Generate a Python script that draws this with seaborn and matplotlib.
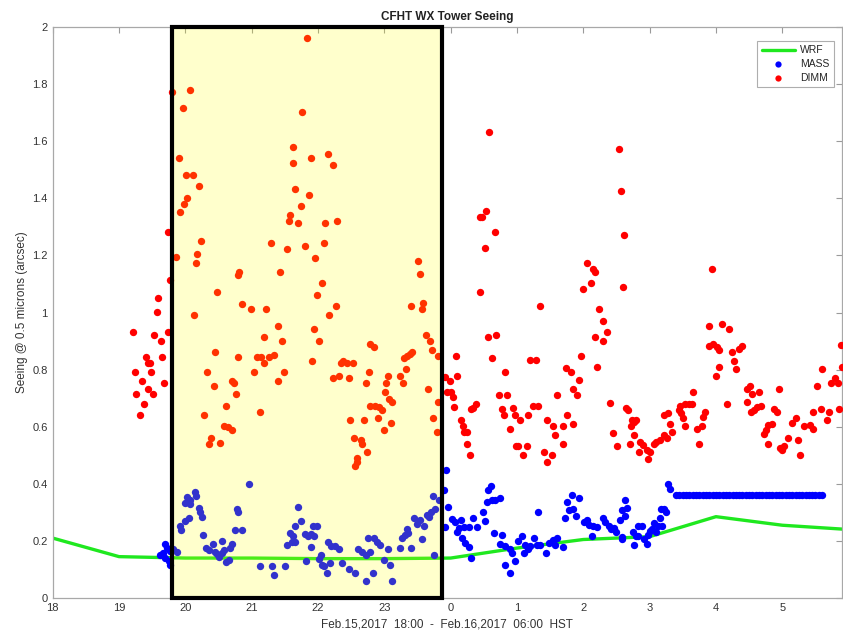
import matplotlib
matplotlib.use("Agg")
import matplotlib.pyplot as plt
from matplotlib.patches import Rectangle
import seaborn as sns
import pandas as pd

# WRF model seeing (hourly)
wrf_time = [18, 19, 20, 21, 22, 23, 24, 25, 26, 27, 28, 29, 30]
wrf_seeing = [0.21, 0.145, 0.14, 0.14, 0.138, 0.138, 0.14, 0.175, 0.205, 0.215, 0.285, 0.255, 0.24]

# MASS measurements (hours since 0:00 Feb.15, HST)
mass_time = [
    19.62, 19.67, 19.70, 19.70, 19.72, 19.75, 19.77, 19.77, 19.82, 19.87,
    19.92, 19.93, 19.99, 19.99, 20.03, 20.05, 20.07, 20.07, 20.14, 20.16,
    20.20, 20.22, 20.25, 20.26, 20.31, 20.35, 20.42, 20.45, 20.48, 20.51,
    20.55, 20.56, 20.58, 20.62, 20.66, 20.67, 20.71, 20.75, 20.78, 20.80,
    20.85, 20.965, 21.13, 21.30, 21.33, 21.50, 21.53, 21.58, 21.61, 21.62,
    21.66, 21.66, 21.70, 21.74, 21.81, 21.82, 21.85, 21.89, 21.90, 21.93,
    21.94, 21.99, 22.01, 22.04, 22.06, 22.09, 22.13, 22.15, 22.18, 22.19,
    22.26, 22.32, 22.355, 22.46, 22.56, 22.61, 22.66, 22.73, 22.73, 22.76,
    22.79, 22.83, 22.84, 22.89, 22.94, 23.00, 23.05, 23.08, 23.11, 23.24,
    23.265, 23.31, 23.34, 23.36, 23.40, 23.44, 23.49, 23.54, 23.565, 23.60,
    23.64, 23.67, 23.70, 23.73, 23.75, 23.77, 23.82, 23.90, 23.92, 23.93,
    23.96, 24.02, 24.07, 24.09, 24.12, 24.15, 24.17, 24.20, 24.22, 24.27,
    24.27, 24.31, 24.34, 24.39, 24.49, 24.52, 24.545, 24.57, 24.61, 24.62,
    24.66, 24.67, 24.74, 24.75, 24.77, 24.82, 24.82, 24.89, 24.90, 24.92,
    24.97, 25.02, 25.07, 25.10, 25.12, 25.16, 25.19, 25.26, 25.30, 25.32,
    25.34, 25.43, 25.48, 25.54, 25.57, 25.60, 25.69, 25.73, 25.76, 25.79,
    25.83, 25.85, 25.89, 25.94, 26.01, 26.05, 26.08, 26.13, 26.14, 26.20,
    26.30, 26.33, 26.38, 26.42, 26.46, 26.50, 26.56, 26.58, 26.58, 26.58,
    26.63, 26.63, 26.66, 26.75, 26.76, 26.79, 26.83, 26.83, 26.88, 26.91,
    26.96, 26.97, 27.01, 27.03, 27.06, 27.09, 27.12, 27.15, 27.17, 27.18,
    27.21, 27.25, 27.28, 27.31,
    27.40, 27.45, 27.50, 27.55, 27.60, 27.65, 27.70, 27.75, 27.80, 27.85,
    27.90, 27.95, 28.00, 28.05, 28.10, 28.15, 28.20, 28.25, 28.30, 28.35,
    28.40, 28.45, 28.50, 28.55, 28.60, 28.65, 28.70, 28.75, 28.80, 28.85,
    28.90, 28.95, 29.00, 29.05, 29.10, 29.15, 29.20, 29.25, 29.30, 29.35,
    29.40, 29.45, 29.50, 29.55, 29.60,
]
mass_seeing = [
    0.152, 0.158, 0.191, 0.141, 0.176, 0.129, 0.117, 0.164, 0.170, 0.160,
    0.251, 0.240, 0.333, 0.269, 0.354, 0.280, 0.344, 0.330, 0.370, 0.356,
    0.317, 0.300, 0.284, 0.222, 0.176, 0.167, 0.191, 0.160, 0.154, 0.144,
    0.156, 0.199, 0.167, 0.125, 0.132, 0.176, 0.190, 0.240, 0.312, 0.300,
    0.240, 0.399, 0.111, 0.111, 0.080, 0.111, 0.185, 0.228, 0.195, 0.216,
    0.251, 0.195, 0.319, 0.269, 0.226, 0.131, 0.216, 0.178, 0.226, 0.251,
    0.216, 0.251, 0.135, 0.152, 0.117, 0.111, 0.088, 0.197, 0.121, 0.181,
    0.181, 0.170, 0.121, 0.100, 0.088, 0.170, 0.160, 0.152, 0.059, 0.210,
    0.160, 0.088, 0.210, 0.195, 0.187, 0.132, 0.170, 0.117, 0.059, 0.176,
    0.210, 0.222, 0.242, 0.228, 0.176, 0.280, 0.261, 0.272, 0.207, 0.251,
    0.292, 0.284, 0.300, 0.358, 0.152, 0.312, 0.342, 0.379, 0.249, 0.449,
    0.319, 0.277, 0.265, 0.230, 0.245, 0.272, 0.210, 0.249, 0.193, 0.249,
    0.179, 0.141, 0.280, 0.249, 0.300, 0.269, 0.338, 0.377, 0.391, 0.344,
    0.228, 0.344, 0.350, 0.191, 0.222, 0.181, 0.117, 0.172, 0.088, 0.158,
    0.129, 0.199, 0.219, 0.156, 0.184, 0.172, 0.181, 0.210, 0.187, 0.300,
    0.187, 0.158, 0.193, 0.202, 0.187, 0.210, 0.179, 0.280, 0.338, 0.309,
    0.362, 0.312, 0.288, 0.350, 0.265, 0.272, 0.257, 0.219, 0.251, 0.249,
    0.280, 0.265, 0.253, 0.242, 0.245, 0.230, 0.272, 0.214, 0.207, 0.309,
    0.342, 0.288, 0.315, 0.230, 0.187, 0.216, 0.216, 0.251, 0.251, 0.207,
    0.191, 0.222, 0.234, 0.242, 0.263, 0.230, 0.251, 0.280, 0.312, 0.251,
    0.312, 0.300, 0.400, 0.382,
    0.36, 0.36, 0.36, 0.36, 0.36, 0.36, 0.36, 0.36, 0.36, 0.36,
    0.36, 0.36, 0.36, 0.36, 0.36, 0.36, 0.36, 0.36, 0.36, 0.36,
    0.36, 0.36, 0.36, 0.36, 0.36, 0.36, 0.36, 0.36, 0.36, 0.36,
    0.36, 0.36, 0.36, 0.36, 0.36, 0.36, 0.36, 0.36, 0.36, 0.36,
    0.36, 0.36, 0.36, 0.36, 0.36,
]

# DIMM measurements
dimm_time = [
    19.211, 19.248, 19.26, 19.32, 19.347, 19.37, 19.403, 19.44, 19.442, 19.468,
    19.483, 19.517, 19.532, 19.568, 19.583, 19.638, 19.649, 19.684, 19.739, 19.744,
    19.77, 19.795, 19.86, 19.905, 19.92, 19.96, 19.98, 20.01, 20.03, 20.07,
    20.12, 20.135, 20.16, 20.18, 20.21, 20.23, 20.28, 20.33, 20.35, 20.38,
    20.43, 20.45, 20.48, 20.53, 20.58, 20.61, 20.65, 20.70, 20.70, 20.74,
    20.76, 20.79, 20.80, 20.81, 20.86, 20.99, 21.04, 21.08, 21.13, 21.14,
    21.18, 21.19, 21.21, 21.26, 21.29, 21.34, 21.39, 21.40, 21.43, 21.45,
    21.48, 21.54, 21.56, 21.58, 21.62, 21.63, 21.655, 21.70, 21.74, 21.755,
    21.81, 21.84, 21.86, 21.89, 21.91, 21.94, 21.96, 21.99, 22.01, 22.06,
    22.09, 22.11, 22.147, 22.16, 22.22, 22.23, 22.27, 22.28, 22.31, 22.34,
    22.375, 22.44, 22.47, 22.49, 22.53, 22.55, 22.56, 22.585, 22.59, 22.645,
    22.66, 22.69, 22.73, 22.745, 22.77, 22.785, 22.79, 22.85, 22.86, 22.90,
    22.92, 22.96, 23.00, 23.01, 23.03, 23.06, 23.07, 23.10, 23.11, 23.24,
    23.28, 23.29, 23.33, 23.34, 23.38, 23.40, 23.42, 23.51, 23.54, 23.57,
    23.59, 23.63, 23.665, 23.69, 23.725, 23.74, 23.79, 23.81, 23.81, 23.92,
    23.95, 23.99, 24.00, 24.03, 24.05, 24.08, 24.09, 24.16, 24.18, 24.20,
    24.24, 24.25, 24.29, 24.30, 24.34, 24.38, 24.44, 24.44, 24.47, 24.52,
    24.54, 24.57, 24.585, 24.63, 24.67, 24.69, 24.73, 24.77, 24.80, 24.82,
    24.85, 24.89, 24.94, 24.97, 24.99, 25.02, 25.04, 25.09, 25.15, 25.17,
    25.19, 25.24, 25.29, 25.32, 25.34, 25.41, 25.45, 25.46, 25.53, 25.55,
    25.57, 25.60, 25.69, 25.69, 25.74, 25.75, 25.81, 25.84, 25.85, 25.90,
    25.94, 25.96, 26.00, 26.05, 26.12, 26.15, 26.17, 26.17, 26.20, 26.24,
    26.29, 26.30, 26.35, 26.40, 26.45, 26.51, 26.545, 26.565, 26.60, 26.62,
    26.65, 26.67, 26.72, 26.73, 26.76, 26.77, 26.70, 26.80, 26.84, 26.85,
    26.90, 26.96, 26.97, 27.00, 27.06, 27.10, 27.16, 27.21, 27.22, 27.26,
    27.27, 27.31, 27.33, 27.45, 27.46, 27.48, 27.50, 27.54, 27.54, 27.59,
    27.64, 27.65, 27.72, 27.74, 27.79, 27.81, 27.84, 27.89, 27.90, 27.94,
    27.96, 28.00, 28.01, 28.04, 28.05, 28.09, 28.16, 28.19, 28.24, 28.27,
    28.30, 28.34, 28.39, 28.47, 28.47, 28.52, 28.53, 28.55, 28.58, 28.62,
    28.65, 28.68, 28.72, 28.75, 28.78, 28.79, 28.84, 28.88, 28.92, 28.95,
    28.97, 29.00, 29.03, 29.09, 29.15, 29.20, 29.24, 29.27, 29.33, 29.42,
    29.46, 29.46, 29.53, 29.58, 29.60, 29.67, 29.70, 29.73, 29.79, 29.84,
    29.86, 29.89, 29.90,
]
dimm_seeing = [
    0.933, 0.791, 0.714, 0.641, 0.760, 0.680, 0.843, 0.733, 0.824, 0.822,
    0.791, 0.714, 0.921, 1.003, 1.050, 0.901, 0.843, 0.752, 0.933, 1.282,
    1.114, 1.774, 1.193, 1.543, 1.352, 1.715, 1.380, 1.483, 1.401, 1.781,
    1.483, 0.991, 1.172, 1.205, 1.443, 1.251, 0.642, 0.791, 0.540, 0.560,
    0.741, 0.861, 1.071, 0.543, 0.604, 0.671, 0.598, 0.760, 0.589, 0.752,
    0.714, 0.843, 1.132, 1.142, 1.031, 1.011, 0.791, 0.845, 0.650, 0.843,
    0.913, 0.824, 1.011, 0.843, 1.243, 0.851, 0.760, 0.952, 1.142, 0.901,
    0.791, 1.223, 1.321, 1.343, 1.522, 1.580, 1.431, 1.314, 1.373, 1.702,
    1.233, 1.962, 1.412, 1.543, 0.830, 0.941, 1.192, 1.061, 0.901, 1.102,
    1.243, 1.314, 1.554, 0.991, 0.772, 1.515, 1.023, 1.321, 0.779, 0.824,
    0.831, 0.822, 0.772, 0.622, 0.822, 0.560, 0.461, 0.490, 0.478, 0.552,
    0.540, 0.622, 0.752, 0.513, 0.791, 0.890, 0.671, 0.880, 0.671, 0.630,
    0.669, 0.659, 0.589, 0.721, 0.752, 0.779, 0.697, 0.613, 0.688, 0.779,
    0.752, 0.841, 0.802, 0.849, 0.855, 1.023, 0.863, 1.180, 1.134, 1.011,
    1.032, 0.921, 0.733, 0.901, 0.869, 0.630, 0.580, 0.849, 0.688, 0.773,
    0.721, 0.761, 0.721, 0.703, 0.669, 0.849, 0.779, 0.622, 0.604, 0.580,
    0.539, 0.580, 0.500, 0.662, 0.665, 0.680, 1.335, 1.073, 1.334, 1.225,
    1.355, 0.913, 1.632, 0.842, 1.283, 0.921, 0.711, 0.662, 0.642, 0.791,
    0.711, 0.592, 0.665, 0.642, 0.531, 0.531, 0.622, 0.502, 0.533, 0.642,
    0.834, 0.671, 0.834, 0.671, 1.024, 0.513, 0.622, 0.478, 0.502, 0.603,
    0.572, 0.711, 0.604, 0.540, 0.805, 0.642, 0.793, 0.610, 0.731, 0.711,
    0.762, 0.849, 1.082, 1.172, 1.102, 1.151, 1.141, 0.913, 0.810, 1.011,
    0.971, 0.900, 0.933, 0.682, 0.578, 0.533, 1.574, 1.425, 1.090, 1.271,
    0.667, 0.659, 0.601, 0.624, 0.618, 0.572, 0.540, 0.624, 0.513, 0.548,
    0.537, 0.517, 0.488, 0.513, 0.540, 0.548, 0.552, 0.572, 0.642, 0.560,
    0.648, 0.610, 0.580, 0.657, 0.671, 0.648, 0.632, 0.680, 0.604, 0.680,
    0.680, 0.721, 0.592, 0.540, 0.601, 0.634, 0.650, 0.953, 0.883, 1.152,
    0.890, 0.779, 0.878, 0.810, 0.869, 0.960, 0.680, 0.941, 0.861, 0.830,
    0.802, 0.871, 0.883, 0.733, 0.688, 0.741, 0.651, 0.714, 0.659, 0.669,
    0.721, 0.671, 0.575, 0.589, 0.540, 0.607, 0.610, 0.663, 0.653, 0.733,
    0.525, 0.519, 0.531, 0.560, 0.613, 0.630, 0.552, 0.502, 0.601, 0.607,
    0.592, 0.651, 0.741, 0.662, 0.802, 0.622, 0.650, 0.752, 0.770, 0.752,
    0.662, 0.886, 0.810,
]

# highlighted observing window
window_start, window_end = 19.8, 23.87

x_ticks = [18, 19, 20, 21, 22, 23, 24, 25, 26, 27, 28, 29]
x_tick_labels = ["18", "19", "20", "21", "22", "23", "0", "1", "2", "3", "4", "5"]
y_ticks = [0, 0.2, 0.4, 0.6, 0.8, 1.0, 1.2, 1.4, 1.6, 1.8, 2.0]
y_tick_labels = ["0", "0.2", "0.4", "0.6", "0.8", "1", "1.2", "1.4", "1.6", "1.8", "2"]

sns.set_theme(style="white")
plt.rcParams["font.family"] = ["Liberation Sans", "DejaVu Sans"]

wrf_df = pd.DataFrame({"time": wrf_time, "seeing": wrf_seeing})
mass_df = pd.DataFrame({"time": mass_time, "seeing": mass_seeing})
dimm_df = pd.DataFrame({"time": dimm_time, "seeing": dimm_seeing})

fig = plt.figure(figsize=(8.43, 6.36), dpi=100)
ax = fig.add_axes([0.0625, 0.0597, 0.9363, 0.8978])

sns.lineplot(data=wrf_df, x="time", y="seeing", color="#1fe81f", linewidth=2.4,
             label="WRF", ax=ax, zorder=2)
sns.scatterplot(data=mass_df, x="time", y="seeing", color="#0000ff", s=28,
                linewidth=0, label="MASS", ax=ax, zorder=3)
sns.scatterplot(data=dimm_df, x="time", y="seeing", color="#ff0000", s=28,
                linewidth=0, label="DIMM", ax=ax, zorder=3)

ax.add_patch(Rectangle((window_start, 0), window_end - window_start, 2.0,
                       facecolor=(1.0, 1.0, 0.0, 0.2), edgecolor="none", zorder=4))
ax.add_patch(Rectangle((window_start, 0), window_end - window_start, 2.0,
                       facecolor="none", edgecolor="black", linewidth=3.0,
                       zorder=5, clip_on=False))

ax.set_xlim(18, 29.9)
ax.set_ylim(0, 2)
ax.set_xticks(x_ticks)
ax.set_xticklabels(x_tick_labels)
ax.set_yticks(y_ticks)
ax.set_yticklabels(y_tick_labels)
ax.tick_params(direction="in", top=True, right=True, length=4, width=0.8,
               colors="#9a9a9a", labelcolor="#333333", labelsize=8)

for side in ax.spines.values():
    side.set_color("#a8a8a8")
    side.set_linewidth(0.9)

ax.set_title("CFHT WX Tower Seeing", fontsize=8.5, fontweight="bold",
             color="#222222", pad=5)
ax.set_xlabel("Feb.15,2017  18:00  -  Feb.16,2017  06:00  HST", fontsize=8.5,
              color="#333333", labelpad=4)
ax.set_ylabel("Seeing @ 0.5 microns (arcsec)", fontsize=8.5, color="#333333",
              labelpad=3)

leg = ax.legend(loc="upper right", fontsize=7.5, frameon=True, fancybox=False,
                borderpad=0.45, handlelength=3.2, handletextpad=0.5,
                labelspacing=0.35, markerscale=0.85,
                bbox_to_anchor=(0.997, 0.985))
leg.get_frame().set_edgecolor("#9a9a9a")
leg.get_frame().set_linewidth(0.8)
leg.set_zorder(6)

fig.savefig("out.png", dpi=100)
